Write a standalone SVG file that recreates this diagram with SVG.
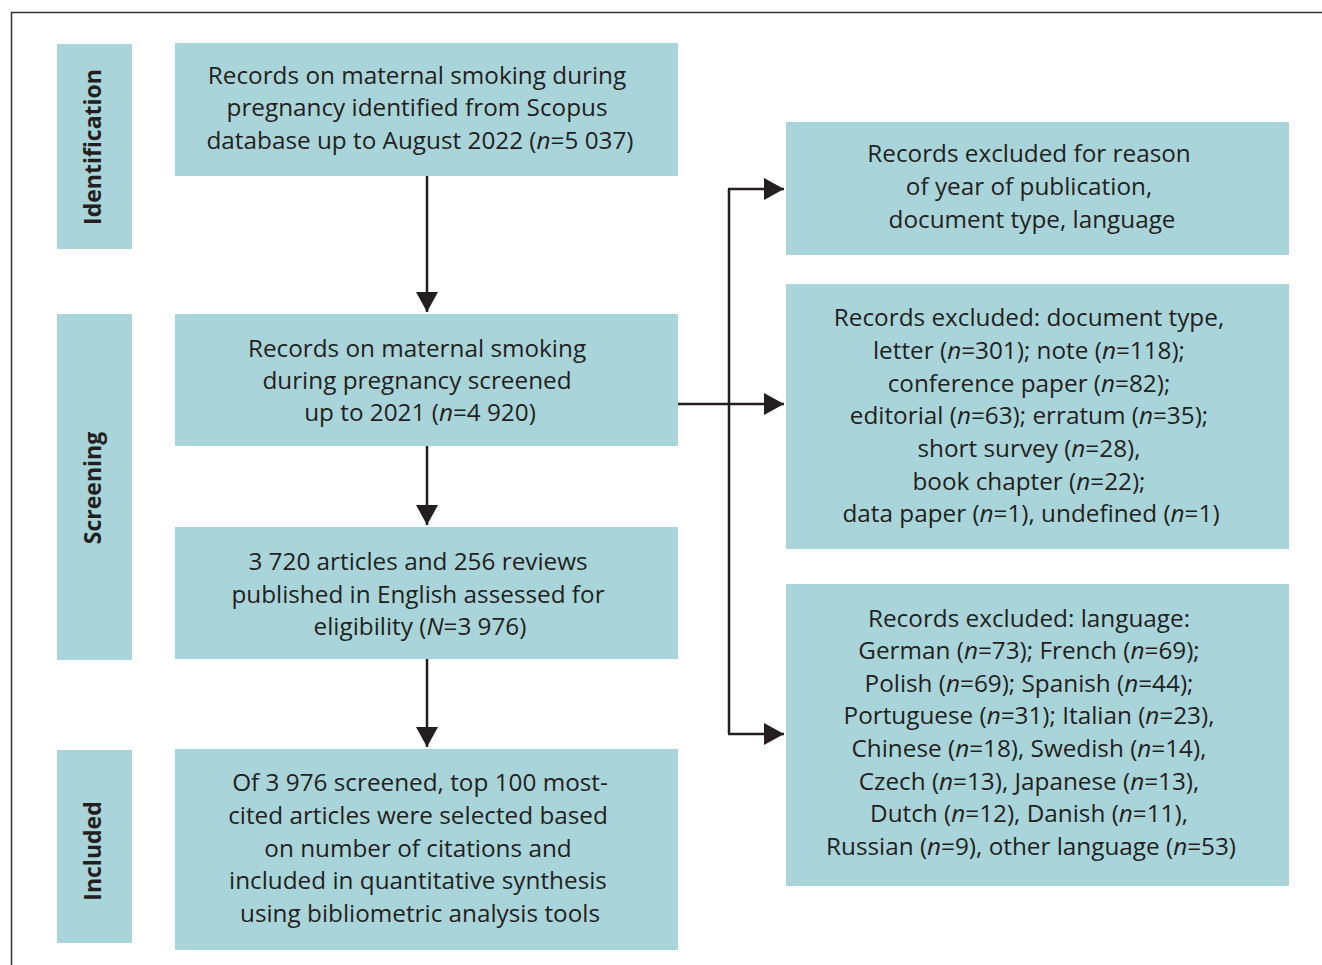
<svg xmlns="http://www.w3.org/2000/svg" width="1322" height="965" viewBox="0 0 1322 965">
<style>
.box{fill:#a9d5da}
.t{font-family:"Open Sans","Noto Sans",sans-serif;font-size:24.3px;fill:#231f20;text-anchor:middle}
.s{font-family:"Open Sans","Noto Sans",sans-serif;font-size:23px;font-weight:bold;fill:#231f20;text-anchor:middle}
.c{stroke:#231f20;stroke-width:2.5;fill:none}
.frame{stroke:#333;stroke-width:1.5;fill:none}
</style>
<defs>
<marker id="ah" viewBox="0 0 20 22" refX="20" refY="11" markerWidth="20" markerHeight="22" markerUnits="userSpaceOnUse" orient="auto">
<path d="M0,0 L20,11 L0,22 Z" fill="#231f20"/>
</marker>
</defs>
<rect width="1322" height="965" fill="#fff"/>
<path class="frame" d="M11.5,965 V12.5 H1322"/>

<g id="label-identification">
<rect class="box" x="57" y="44" width="75" height="205"/>
<text class="s" transform="translate(101,147) rotate(-90)">Identification</text>
</g>
<g id="label-screening">
<rect class="box" x="57" y="314" width="75" height="346"/>
<text class="s" transform="translate(101,488) rotate(-90)">Screening</text>
</g>
<g id="label-included">
<rect class="box" x="57" y="750" width="75" height="193"/>
<text class="s" transform="translate(101,851) rotate(-90)">Included</text>
</g>

<g id="box-identified">
<rect class="box" x="175" y="43" width="503" height="133"/>
<text class="t" x="417" y="84">Records on maternal smoking during</text>
<text class="t" x="417" y="116">pregnancy identified from Scopus</text>
<text class="t" x="420" y="149">database up to August 2022 (<tspan font-style="italic">n</tspan>=5 037)</text>
</g>
<g id="box-screened">
<rect class="box" x="175" y="314" width="503" height="132"/>
<text class="t" x="417" y="357">Records on maternal smoking</text>
<text class="t" x="417" y="389">during pregnancy screened</text>
<text class="t" x="420" y="421">up to 2021 (<tspan font-style="italic">n</tspan>=4 920)</text>
</g>
<g id="box-eligibility">
<rect class="box" x="175" y="527" width="503" height="132"/>
<text class="t" x="418" y="570">3 720 articles and 256 reviews</text>
<text class="t" x="418" y="603">published in English assessed for</text>
<text class="t" x="420" y="635">eligibility (<tspan font-style="italic">N</tspan>=3 976)</text>
</g>
<g id="box-included">
<rect class="box" x="175" y="749" width="503" height="201"/>
<text class="t" x="420" y="791">Of 3 976 screened, top 100 most-</text>
<text class="t" x="418" y="824">cited articles were selected based</text>
<text class="t" x="418" y="857">on number of citations and</text>
<text class="t" x="418" y="889">included in quantitative synthesis</text>
<text class="t" x="420" y="922">using bibliometric analysis tools</text>
</g>

<g id="box-excl-year">
<rect class="box" x="786" y="122" width="503" height="133"/>
<text class="t" x="1029" y="162">Records excluded for reason</text>
<text class="t" x="1029" y="195">of year of publication,</text>
<text class="t" x="1032" y="228">document type, language</text>
</g>
<g id="box-excl-doctype">
<rect class="box" x="786" y="284" width="503" height="265"/>
<text class="t" x="1029" y="326">Records excluded: document type,</text>
<text class="t" x="1029" y="359">letter (<tspan font-style="italic">n</tspan>=301); note (<tspan font-style="italic">n</tspan>=118);</text>
<text class="t" x="1029" y="392">conference paper (<tspan font-style="italic">n</tspan>=82);</text>
<text class="t" x="1029" y="424">editorial (<tspan font-style="italic">n</tspan>=63); erratum (<tspan font-style="italic">n</tspan>=35);</text>
<text class="t" x="1029" y="457">short survey (<tspan font-style="italic">n</tspan>=28),</text>
<text class="t" x="1029" y="490">book chapter (<tspan font-style="italic">n</tspan>=22);</text>
<text class="t" x="1031" y="522">data paper (<tspan font-style="italic">n</tspan>=1), undefined (<tspan font-style="italic">n</tspan>=1)</text>
</g>
<g id="box-excl-language">
<rect class="box" x="786" y="584" width="503" height="302"/>
<text class="t" x="1029" y="627">Records excluded: language:</text>
<text class="t" x="1029" y="659">German (<tspan font-style="italic">n</tspan>=73); French (<tspan font-style="italic">n</tspan>=69);</text>
<text class="t" x="1029" y="692">Polish (<tspan font-style="italic">n</tspan>=69); Spanish (<tspan font-style="italic">n</tspan>=44);</text>
<text class="t" x="1029" y="724">Portuguese (<tspan font-style="italic">n</tspan>=31); Italian (<tspan font-style="italic">n</tspan>=23),</text>
<text class="t" x="1029" y="757">Chinese (<tspan font-style="italic">n</tspan>=18), Swedish (<tspan font-style="italic">n</tspan>=14),</text>
<text class="t" x="1029" y="790">Czech (<tspan font-style="italic">n</tspan>=13), Japanese (<tspan font-style="italic">n</tspan>=13),</text>
<text class="t" x="1029" y="822">Dutch (<tspan font-style="italic">n</tspan>=12), Danish (<tspan font-style="italic">n</tspan>=11),</text>
<text class="t" x="1031" y="855">Russian (<tspan font-style="italic">n</tspan>=9), other language (<tspan font-style="italic">n</tspan>=53)</text>
</g>

<g id="connectors">
<line class="c" x1="427" y1="176" x2="427" y2="312" marker-end="url(#ah)"/>
<line class="c" x1="427" y1="446" x2="427" y2="525" marker-end="url(#ah)"/>
<line class="c" x1="427" y1="659" x2="427" y2="747" marker-end="url(#ah)"/>
<line class="c" x1="729" y1="189" x2="729" y2="734"/>
<line class="c" x1="728" y1="189" x2="784" y2="189" marker-end="url(#ah)"/>
<line class="c" x1="678" y1="404" x2="784" y2="404" marker-end="url(#ah)"/>
<line class="c" x1="728" y1="734" x2="784" y2="734" marker-end="url(#ah)"/>
</g>
</svg>
